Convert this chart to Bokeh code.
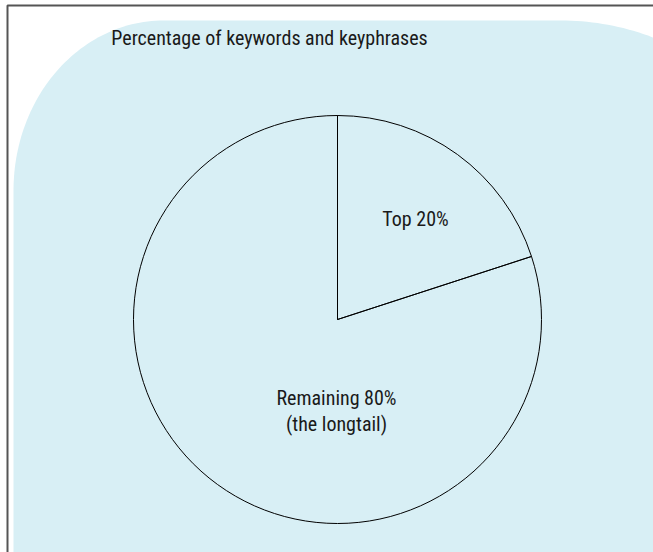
import numpy as np
from bokeh.plotting import figure
from bokeh.models import Range1d
from bokeh.core.properties import value
from bokeh.embed import file_html
from bokeh.resources import INLINE

# ---- data ----
title_text = "Percentage of keywords and keyphrases"
slice_names = ["Top 20%", "Remaining 80%\n(the longtail)"]
slice_values = [20, 80]

W, H = 653, 552
FONT = "Liberation Sans Narrow, Roboto Condensed, Arial Narrow, sans-serif"

p = figure(width=W, height=H, output_backend="svg", toolbar_location=None,
           x_range=Range1d(0, W), y_range=Range1d(0, H),
           min_border=0, background_fill_color="white", border_fill_color="white")
p.axis.visible = False
p.grid.visible = False
p.outline_line_color = None

# ---- background panel (light cyan, rounded top corners) ----
def ell(cx, cy, rx, ry, a0, a1, n=60):
    t = np.linspace(a0, a1, n)
    return cx + rx * np.cos(t), cy + ry * np.sin(t)

top = H - 20
lx, ly = ell(13 + 150, top - 170, 150, 170, np.pi, np.pi / 2)
rx_, ry_ = ell(560, top - 150, 200, 150, np.pi / 2, 0.0)
bx = np.concatenate([[13], lx, rx_, [W + 10, W + 10]])
by = np.concatenate([[-10], ly, ry_, [-10, -10]])
p.patch(bx, by, fill_color="#d8eff5", line_color=None)

# frame lines (left and top)
p.line([7, 7, W + 5], [-10, H - 5, H - 5], line_color="#555555", line_width=2)

# ---- pie ----
cx, cy, r = 337, 233, 204
frac = np.array(slice_values, dtype=float) / sum(slice_values)
cum = np.concatenate([[0], np.cumsum(frac)])
ends = np.pi / 2 - cum[:-1] * 2 * np.pi
starts = np.pi / 2 - cum[1:] * 2 * np.pi
p.wedge(x=[cx] * len(slice_values), y=[cy] * len(slice_values), radius=r,
        start_angle=starts, end_angle=ends, fill_alpha=0,
        line_color="black", line_width=1)

# labels
p.text(x=[415], y=[334], text=[slice_names[0]], text_font=value(FONT),
       text_font_size="20px", text_align="center", text_baseline="middle",
       text_color="#1a1a1a")
p.text(x=[336], y=[167], text=[slice_names[1]], text_font=value(FONT),
       text_font_size="20px", text_align="center", text_baseline="top",
       text_color="#1a1a1a", text_line_height=1.12)

# title
p.text(x=[269], y=[515], text=[title_text], text_font=value(FONT),
       text_font_size="20px", text_align="center", text_baseline="middle",
       text_color="#1a1a1a")

open("out.html", "w").write(file_html(p, INLINE))
